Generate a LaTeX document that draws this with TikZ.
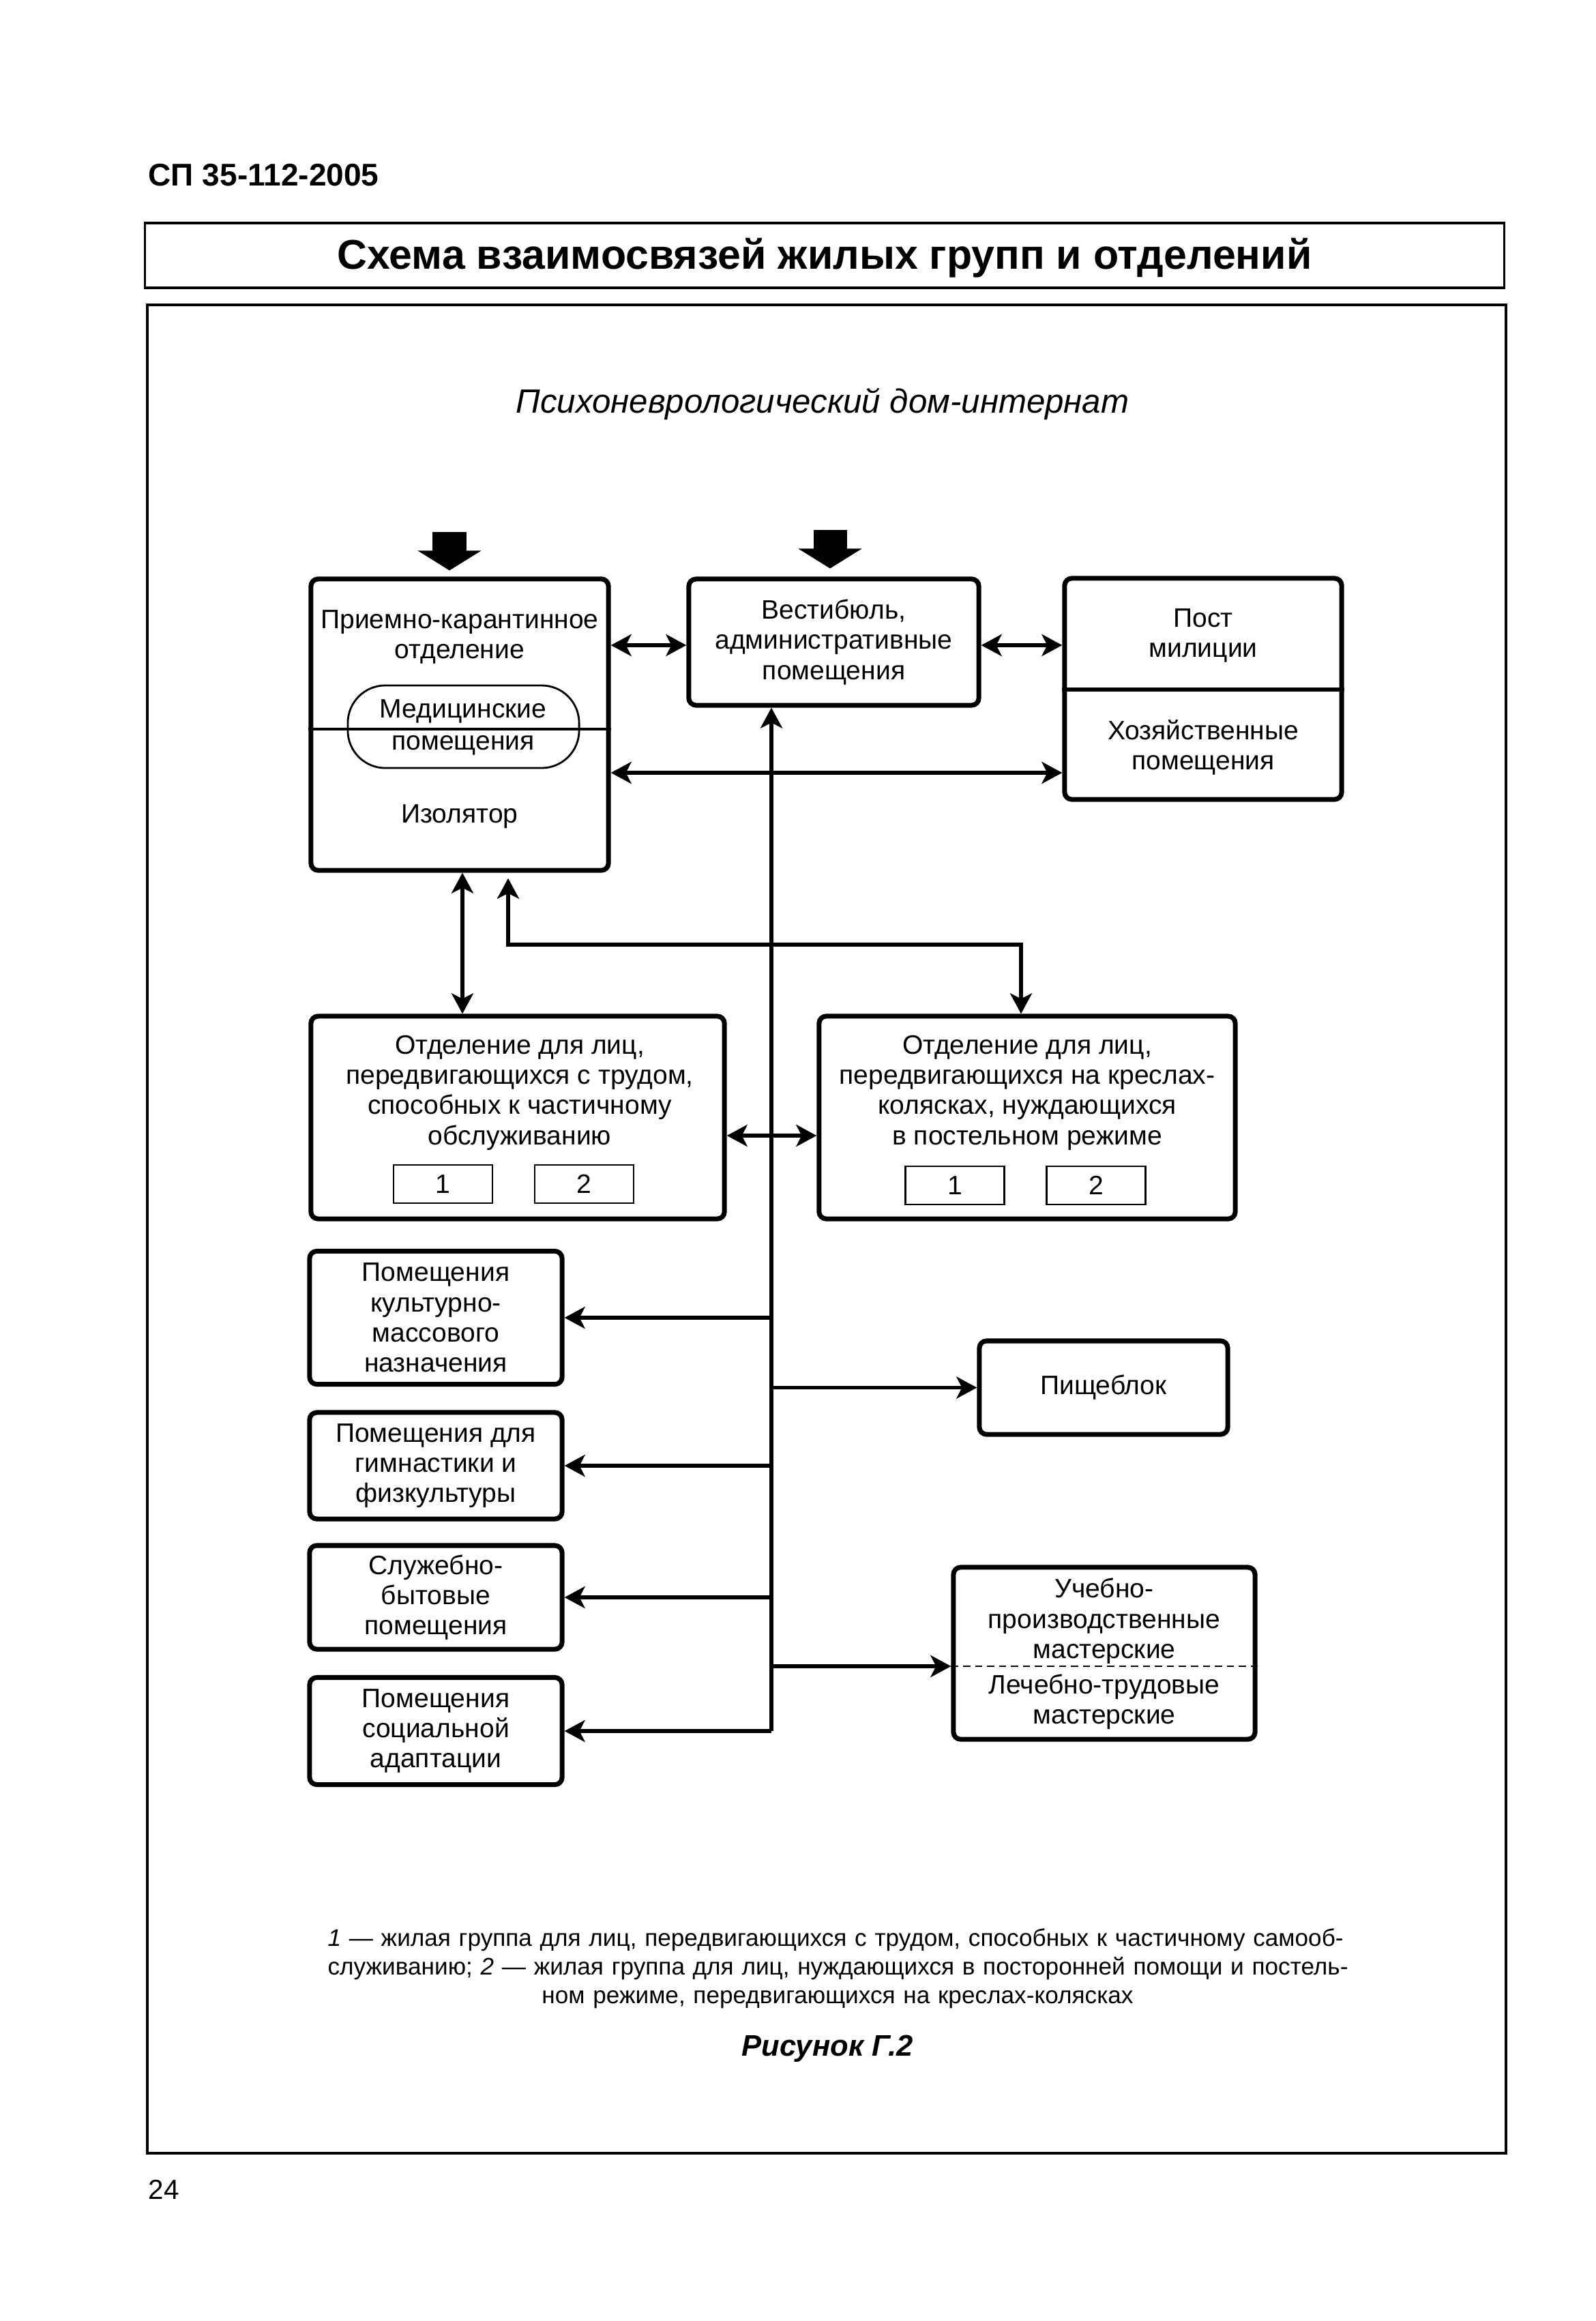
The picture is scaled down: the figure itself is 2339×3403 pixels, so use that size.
\documentclass[tikz,border=0pt]{standalone}
\usepackage{fontspec}
\setmainfont{Liberation Sans}
\usetikzlibrary{arrows.meta}
\begin{document}
\begin{tikzpicture}[x=0.01cm,y=-0.01cm,
  bxfont/.style={font=\fontsize{11.1}{12.6}\selectfont},
  box/.style={draw, line width=2pt, rounded corners=3pt, align=center, inner sep=0pt, bxfont},
  txt/.style={align=center, inner sep=0pt, bxfont},
  numbox/.style={draw, line width=0.8pt, inner sep=0pt, minimum width=1.45cm, minimum height=0.56cm, bxfont},
  conn/.style={line width=1.5pt},
  arr/.style={conn, -{Stealth[length=0.3cm,width=0.32cm,inset=0.08cm]}},
  darr/.style={conn, {Stealth[length=0.3cm,width=0.32cm,inset=0.08cm]}-{Stealth[length=0.3cm,width=0.32cm,inset=0.08cm]}},
  bigarr/.style={line width=0.49cm, -{Triangle[length=0.29cm,width=0.92cm]}}
]
\useasboundingbox (0,0) rectangle (2339,3403);
\fill[white] (0,0) rectangle (2339,3403);

% header
\node[anchor=west, inner sep=0pt, font=\fontsize{13.1}{15}\selectfont\bfseries] (code) at (217,257) {СП 35-112-2005};
\node[draw, line width=1pt, minimum width=19.92cm, minimum height=0.95cm, inner sep=0pt] (title) at (1209,374.5) {};
\node[inner sep=0pt, font=\fontsize{17.3}{20}\selectfont\bfseries] (titlet) at (1209,378) {Схема взаимосвязей жилых групп и отделений};
\draw[line width=1.1pt] (216,447) rectangle (2208,3157);
\node[inner sep=0pt, font=\fontsize{14}{17}\selectfont\itshape] (sub) at (1206,592) {Психоневрологический дом-интернат};

% top row
\node[box, minimum width=4.36cm, minimum height=4.27cm] (pk) at (674,1062.5) {};
\node[txt] (pkt) at (674,934) {Приемно-карантинное\\отделение};
\node[draw, line width=0.8pt, rounded corners=0.55cm, minimum width=3.39cm, minimum height=1.21cm] (med) at (679.5,1065.5) {};
\draw[line width=1pt] (pk.west |- 0,1069) -- (pk.east |- 0,1069);
\node[txt] (medt1) at (679,1043) {Медицинские};
\node[txt] (medt2) at (679,1093) {помещения};
\node[txt] (iso) at (674,1197) {Изолятор};

\node[box, minimum width=4.25cm, minimum height=1.85cm] (vest) at (1222.5,941.5) {Вестибюль,\\административные\\помещения};

\node[box, minimum width=4.06cm, minimum height=3.24cm] (post) at (1764,1010) {};
\draw[line width=1.5pt] (post.west |- 0,1011) -- (post.east |- 0,1011);
\node[txt] (postt) at (1764,932) {Пост\\милиции};
\node[txt] (hoz) at (1764,1096) {Хозяйственные\\помещения};

% entry arrows
\coordinate (in1) at (659,780);
\coordinate (in2) at (1217,777);
\draw[bigarr, shorten >=0.09cm] (in1) -- (in1 |- pk.north);
\draw[bigarr, shorten >=0.12cm] (in2) -- (in2 |- vest.north);

% departments
\node[box, minimum width=6.06cm, minimum height=2.97cm] (otd1) at (759,1638.5) {};
\node[txt] (otd1t) at (762,1602) {Отделение для лиц,\\передвигающихся с трудом,\\способных к частичному\\обслуживанию};
\node[numbox] (o1a) at (649.5,1736) {1};
\node[numbox] (o1b) at (856.5,1736) {2};

\node[box, minimum width=6.10cm, minimum height=2.97cm] (otd2) at (1506,1638.5) {};
\node[txt] (otd2t) at (1506,1602) {Отделение для лиц,\\передвигающихся на креслах-\\колясках, нуждающихся\\в постельном режиме};
\node[numbox] (o2a) at (1400,1738) {1};
\node[numbox] (o2b) at (1607,1738) {2};

% left column
\node[box, minimum width=3.70cm, minimum height=1.95cm] (kul) at (639,1932) {Помещения\\культурно-\\массового\\назначения};
\node[box, minimum width=3.70cm, minimum height=1.56cm] (gym) at (639,2149) {Помещения для\\гимнастики и\\физкультуры};
\node[box, minimum width=3.70cm, minimum height=1.52cm] (slu) at (639,2342) {Служебно-\\бытовые\\помещения};
\node[box, minimum width=3.70cm, minimum height=1.57cm] (soc) at (639,2538) {Помещения\\социальной\\адаптации};

% right column
\node[box, minimum width=3.64cm, minimum height=1.37cm] (pb) at (1618,2034.5) {Пищеблок};
\node[box, minimum width=4.42cm, minimum height=2.52cm] (ub) at (1619,2424) {};
\coordinate (div) at (0,2443);
\draw[line width=0.8pt, dash pattern=on 3pt off 2pt] (ub.west |- div) -- (ub.east |- div);
\node[txt] (ubt1) at (1619,2377) {Учебно-\\производственные\\мастерские};
\node[txt] (ubt2) at (1619,2495) {Лечебно-трудовые\\мастерские};

% connectors, top
\draw[darr] (pk.east |- 0,946) -- (vest.west |- 0,946);
\draw[darr] (vest.east |- 0,946) -- (post.west |- 0,946);
\draw[darr] (pk.east |- 0,1133) -- (post.west |- 0,1133);

% pk to departments
\coordinate (c1) at (678,0);
\coordinate (c2) at (745,0);
\coordinate (c3) at (1497,1385);
\draw[darr] (pk.south -| c1) -- (otd1.north -| c1);
\draw[darr, shorten <=0.08cm] (pk.south -| c2) |- (c3) -- (otd2.north -| c3);
\draw[darr] (otd1.east |- 0,1665) -- (otd2.west |- 0,1665);

% trunk
\coordinate (trb) at (1131,2538);
\draw[arr] (trb) -- (vest.south -| trb);
\draw[arr] (trb |- kul.east) -- (kul.east);
\draw[arr] (trb |- gym.east) -- (gym.east);
\draw[arr] (trb |- slu.east) -- (slu.east);
\draw[arr] (trb) -- (soc.east);
\draw[arr] (trb |- pb.west) -- (pb.west);
\draw[arr] (trb |- div) -- (ub.west |- div);

% notes
\node[inner sep=0pt, text width=14.94cm, align=center, font=\fontsize{10}{11.9}\selectfont] (note) at (1228,2886)
 {\makebox[14.94cm][s]{\textit{1} — жилая группа для лиц, передвигающихся с трудом, способных к частичному самооб-}\\
  \makebox[14.94cm][s]{служиванию; \textit{2} — жилая группа для лиц, нуждающихся в посторонней помощи и постель-}\\
  ном режиме, передвигающихся на креслах-колясках};
\node[inner sep=0pt, font=\fontsize{12.4}{14}\selectfont\bfseries\itshape] (fig) at (1213,3004) {Рисунок Г.2};
\node[anchor=west, inner sep=0pt, font=\fontsize{11.5}{14}\selectfont] (page) at (217,3210) {24};
\end{tikzpicture}
\end{document}
